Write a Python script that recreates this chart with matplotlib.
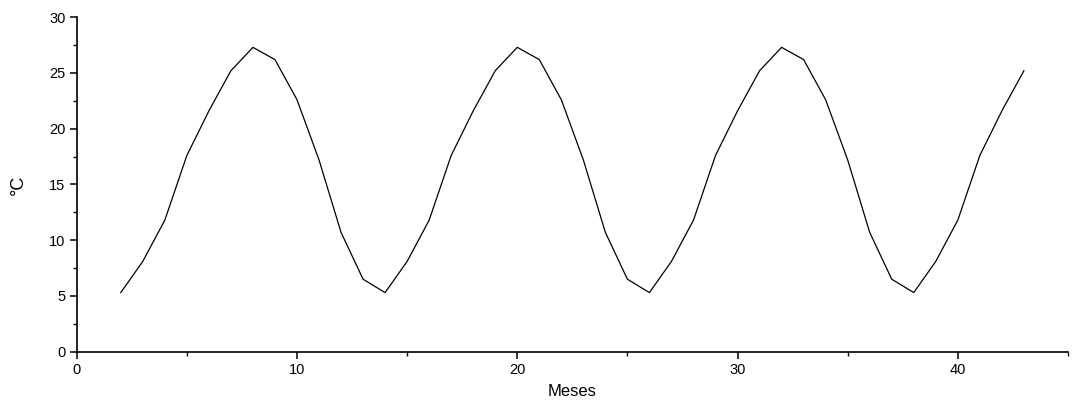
import numpy as np
import matplotlib.pyplot as plt
from matplotlib.ticker import MultipleLocator

plt.rcParams['font.family'] = ['Liberation Sans', 'DejaVu Sans']

# mean monthly temperature, months 2..43
meses = list(range(2, 44))
temperatura = [5.3, 8.1, 11.8, 17.6, 21.6, 25.2, 27.3, 26.2, 22.6, 17.2, 10.7, 6.5,
               5.3, 8.1, 11.8, 17.6, 21.6, 25.2, 27.3, 26.2, 22.6, 17.2, 10.7, 6.5,
               5.3, 8.1, 11.8, 17.6, 21.6, 25.2, 27.3, 26.2, 22.6, 17.2, 10.7, 6.5,
               5.3, 8.1, 11.8, 17.6, 21.6, 25.2]

fig = plt.figure(figsize=(10.73, 4.01), dpi=100)
ax = fig.add_axes([0.0715, 0.123, 0.9238, 0.834])

ax.plot(meses, temperatura, color='black', lw=0.9)

ax.set_xlim(0, 45)
ax.set_ylim(0, 30)
ax.xaxis.set_major_locator(MultipleLocator(10))
ax.xaxis.set_minor_locator(MultipleLocator(5))
ax.yaxis.set_major_locator(MultipleLocator(5))
ax.yaxis.set_minor_locator(MultipleLocator(2.5))

for side in ['top', 'right']:
    ax.spines[side].set_visible(False)
for side in ['left', 'bottom']:
    ax.spines[side].set_linewidth(1.2)

ax.tick_params(which='major', direction='out', length=5, width=1.1, labelsize=10.5, pad=3)
ax.tick_params(which='minor', direction='out', length=3, width=1.0)

ax.set_xlabel('Meses', fontsize=12, labelpad=5)
ax.set_ylabel('°C', fontsize=13, labelpad=16)

fig.savefig('out.png', dpi=100)
